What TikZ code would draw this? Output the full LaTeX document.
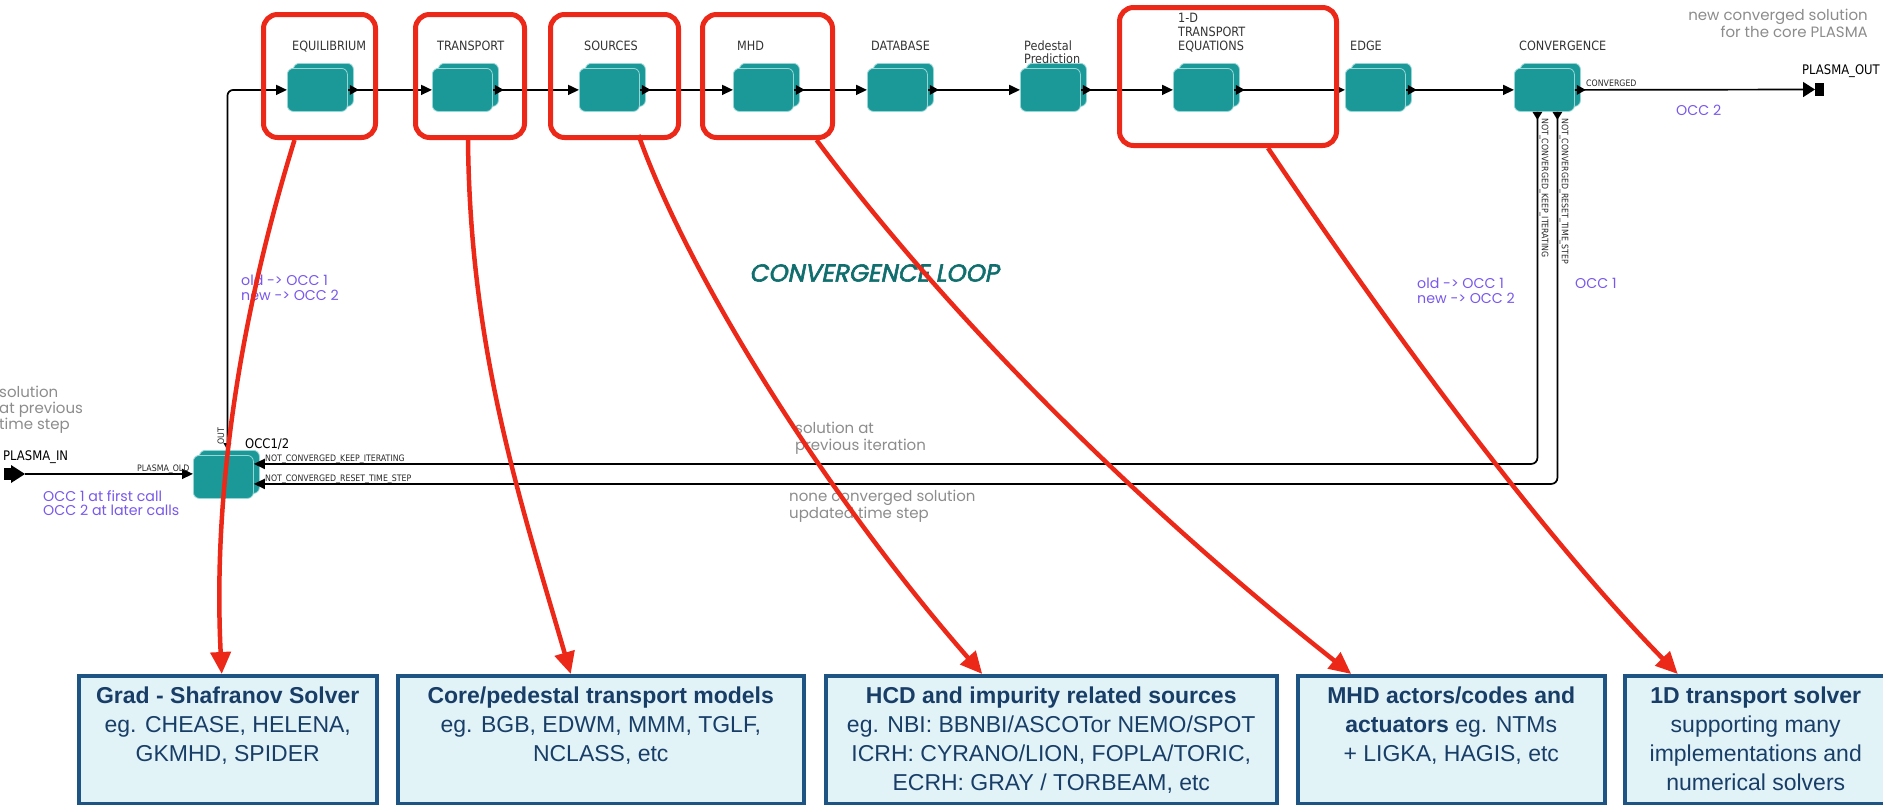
\documentclass[tikz,border=0pt]{standalone}
\usepackage{fontspec}
\setmainfont{Liberation Sans}
\newfontfamily\dvfont[FakeStretch=0.88]{DejaVu Sans}
\newfontfamily\geofont[AutoFakeSlant=0.2,AutoFakeBold=2.5]{Poppins}
\usetikzlibrary{arrows.meta,calc}

\definecolor{tealblk}{RGB}{27,152,152}
\definecolor{tealedge}{RGB}{150,214,214}
\definecolor{looptxt}{RGB}{16,110,110}
\definecolor{redc}{RGB}{236,40,24}
\definecolor{boxedge}{RGB}{30,84,132}
\definecolor{boxfill}{RGB}{226,243,247}
\definecolor{boxtext}{RGB}{24,62,104}
\definecolor{notegray}{RGB}{140,140,140}
\definecolor{occpurple}{RGB}{120,88,236}

\tikzset{
  blkfront/.style={rectangle, rounded corners=6pt, fill=tealblk, draw=tealedge,
    line width=0.8pt, minimum width=60pt, minimum height=43pt, inner sep=0pt, anchor=north west},
  blkback/.style={blkfront},
  wire/.style={draw=black, line width=1.7pt},
  intip/.style={-{Triangle[length=11pt,width=10pt]}},
  redbox/.style={draw=redc, line width=5pt, rounded corners=14pt, inner sep=0pt, anchor=north west},
  redarrow/.style={draw=redc, line width=4.5pt, -{Triangle[length=22pt,width=20pt]}},
  infobox/.style={draw=boxedge, fill=boxfill, line width=3.5pt, inner sep=0pt,
    anchor=north west, minimum height=128pt},
  infotext/.style={text=boxtext, font=\fontsize{23}{29}\selectfont, align=center,
    anchor=north, inner sep=0pt},
  blklbl/.style={font=\dvfont\fontsize{12.8}{14}\selectfont, text=black!80, inner sep=0pt, anchor=base west},
  portlbl/.style={font=\dvfont\fontsize{8.9}{10}\selectfont, text=black!85, inner sep=0pt, anchor=base west},
  termlbl/.style={font=\dvfont\fontsize{13.2}{15}\selectfont, text=black, inner sep=0pt, anchor=base west},
  note/.style={font=\geofont\fontsize{15}{16.5}\selectfont, text=notegray, inner sep=0pt,
    align=left, anchor=north west},
  occnote/.style={font=\geofont\fontsize{14.2}{14.5}\selectfont, text=occpurple, inner sep=0pt,
    align=left, anchor=north west},
}

% one actor: a shadow copy behind, the block itself in front
\newcommand\tealblock[3]{%
  \node[blkback] (#1b) at (#2+6,#3-5) {};
  \node[blkfront] (#1) at (#2,#3) {};
}
% output port marker on the right side of a block
\newcommand\outport[1]{%
  \fill ([xshift=2pt]#1.east) -- ++(0,5) -- ++(9,-5) -- ++(-9,-5) -- cycle;
}

\begin{document}
\begin{tikzpicture}[x=1pt,y=-1pt]
\useasboundingbox (0,0) rectangle (1883,804);

% ---------------- actors of the workflow ----------------
\tealblock{eq}{287}{68}
\tealblock{tr}{432}{68}
\tealblock{so}{579}{68}
\tealblock{mhd}{733}{68}
\tealblock{db}{867}{68}
\tealblock{ped}{1020}{68}
\tealblock{od}{1173}{68}
\tealblock{edge}{1345}{68}
\tealblock{conv}{1514}{68}
\tealblock{occ}{193}{455}

\node[blklbl] (leq) at (292,50) {EQUILIBRIUM};
\node[blklbl] (ltr) at (437,50) {TRANSPORT};
\node[blklbl] (lso) at (584,50) {SOURCES};
\node[blklbl] (lmhd) at (737,50) {MHD};
\node[blklbl] (ldb) at (871,50) {DATABASE};
\node[blklbl] (lpeda) at (1024,50) {Pedestal};
\node[blklbl] (lpedb) at (1024,63) {Prediction};
\node[blklbl] (loda) at (1178,22) {1-D};
\node[blklbl] (lodb) at (1178,36) {TRANSPORT};
\node[blklbl] (lodc) at (1178,50) {EQUATIONS};
\node[blklbl] (ledge) at (1350,50) {EDGE};
\node[blklbl] (lconv) at (1519,50) {CONVERGENCE};
\node[termlbl] (locc) at (245,448) {OCC1/2};

% ---------------- main chain ----------------
\foreach \a/\b in {eq/tr, tr/so, so/mhd, mhd/db, db/ped, ped/od, od/edge, edge/conv}{
  \draw[wire, intip] (\a.east) -- (\b.west);
  \outport{\a}
}
\coordinate (pout) at (1815,89.5);
\draw[wire, -{Triangle[length=12pt,width=15pt]}] (conv.east) -- (pout);
\fill (1815,83) rectangle (1824,96);
\outport{conv}
\node[portlbl] (lcvd) at (1586,86) {CONVERGED};
\node[termlbl] (lpout) at (1802,74) {PLASMA\_OUT};

% entry of the loop from the initialisation block
\draw[wire, intip, rounded corners=6pt] ([xshift=-2pt]occb.north) |- (eq.west);
\fill ([xshift=-2pt]occb.north) -- ++(-4,-7) -- ++(8,0) -- cycle;
\node[portlbl, rotate=90, anchor=center] (lout) at (221,436) {OUT};

% plasma coming from the previous time step
\coordinate (pin) at (25,474);
\fill (4,468) rectangle (11,480);
\fill (11,465) -- (pin) -- (11,483) -- cycle;
\draw[wire, intip] (pin) -- ([yshift=3pt]occ.west);
\node[termlbl] (lpin) at (3,460) {PLASMA\_IN};
\node[portlbl] (lpold) at (137,471) {PLASMA\_OLD};

% the two return branches of the convergence test
\draw[wire, intip, rounded corners=6pt] ([xshift=-7pt]conv.south) |- ([yshift=13pt]occ.east);
\draw[wire, intip, rounded corners=6pt] ([xshift=13pt]conv.south) |- ([yshift=-7pt]occ.east);
\fill ([xshift=-7pt]conv.south) ++(-5,0) -- ++(5,8) -- ++(5,-8) -- cycle;
\fill ([xshift=13pt]conv.south) ++(-5,0) -- ++(5,8) -- ++(5,-8) -- cycle;
\node[portlbl, rotate=-90, anchor=west] (lvkeep) at (1544,118) {NOT\_CONVERGED\_KEEP\_ITERATING};
\node[portlbl, rotate=-90, anchor=west] (lvreset) at (1564,118) {NOT\_CONVERGED\_RESET\_TIME\_STEP};
\node[portlbl] (lhkeep) at (265,461) {NOT\_CONVERGED\_KEEP\_ITERATING};
\node[portlbl] (lhreset) at (265,481) {NOT\_CONVERGED\_RESET\_TIME\_STEP};

% ---------------- annotations ----------------
\node[note, align=right, anchor=north east] (nnew) at (1868,9) {new converged solution\\for the core PLASMA};
\node[note, font=\geofont\fontsize{15}{16}\selectfont] (nprev) at (-1,386) {solution\\at previous\\time step};
\node[note] (niter) at (795,422) {solution at\\previous iteration};
\node[note] (nnone) at (789,490) {none converged solution\\updated time step};
\node[occnote] (ofirst) at (43,490) {OCC 1 at first call\\OCC 2 at later calls};
\node[occnote] (oleft) at (241,275) {old -> OCC 1\\new -> OCC 2};
\node[occnote] (oright) at (1417,278) {old -> OCC 1\\new -> OCC 2};
\node[occnote] (oone) at (1575,278) {OCC 1};
\node[occnote] (otwo) at (1676,105) {OCC 2};
\node[font=\geofont\bfseries\itshape\fontsize{24.5}{26}\selectfont, text=looptxt, inner sep=0pt] (loop) at (874,273) {CONVERGENCE LOOP};

% ---------------- highlighted actors ----------------
\node[redbox, minimum width=112pt, minimum height=123pt] (rb1) at (261,12) {};
\node[redbox, minimum width=109pt, minimum height=123pt] (rb2) at (413,12) {};
\node[redbox, minimum width=128pt, minimum height=123pt] (rb3) at (548,12) {};
\node[redbox, minimum width=130pt, minimum height=123pt] (rb4) at (700,12) {};
\node[redbox, minimum width=217pt, minimum height=138pt] (rb5) at (1117,5) {};

% ---------------- physics modules ----------------
\node[infobox, minimum width=298pt] (b1) at (77,674) {};
\node[infobox, minimum width=406pt] (b2) at (396,674) {};
\node[infobox, minimum width=451pt] (b3) at (824,674) {};
\node[infobox, minimum width=307pt] (b4) at (1296,674) {};
\node[infobox, minimum width=262pt] (b5) at (1623,674) {};

\node[infotext] (t1) at ([yshift=-13pt]b1.north) {\textbf{Grad - Shafranov Solver}\\eg. CHEASE, HELENA,\\GKMHD, SPIDER};
\node[infotext] (t2) at ([yshift=-13pt]b2.north) {\textbf{Core/pedestal transport models}\\eg. BGB, EDWM, MMM, TGLF,\\NCLASS, etc};
\node[infotext] (t3) at ([yshift=-13pt]b3.north) {\textbf{HCD and impurity related sources}\\eg. NBI: BBNBI/ASCOTor NEMO/SPOT\\ICRH: CYRANO/LION, FOPLA/TORIC,\\ECRH: GRAY / TORBEAM, etc};
\node[infotext] (t4) at ([yshift=-13pt]b4.north) {\textbf{MHD actors/codes and}\\\textbf{actuators} eg. NTMs\\+ LIGKA, HAGIS, etc};
\node[infotext] (t5) at ([yshift=-13pt]b5.north) {\textbf{1D transport solver}\\supporting many\\implementations and\\numerical solvers};

% ---------------- pointers from actors to modules ----------------
\draw[redarrow] ([xshift=-25pt]rb1.south) .. controls (245,300) and (212,480) .. ([xshift=-6pt]b1.north);
\draw[redarrow] ([xshift=-2pt]rb2.south) .. controls (470,350) and (520,500) .. ([xshift=-30pt]b2.north);
\draw[redarrow] ([xshift=24pt,yshift=5pt]rb3.south) .. controls (690,280) and (830,500) .. ([xshift=-69pt]b3.north);
\draw[redarrow] ([xshift=49pt]rb4.south) .. controls (949,317) and (1135,503) .. ([xshift=-100pt]b4.north);
\draw[redarrow] ([xshift=40pt]rb5.south) .. controls (1370,300) and (1530,523) .. ([xshift=-78pt]b5.north);

\end{tikzpicture}
\end{document}
